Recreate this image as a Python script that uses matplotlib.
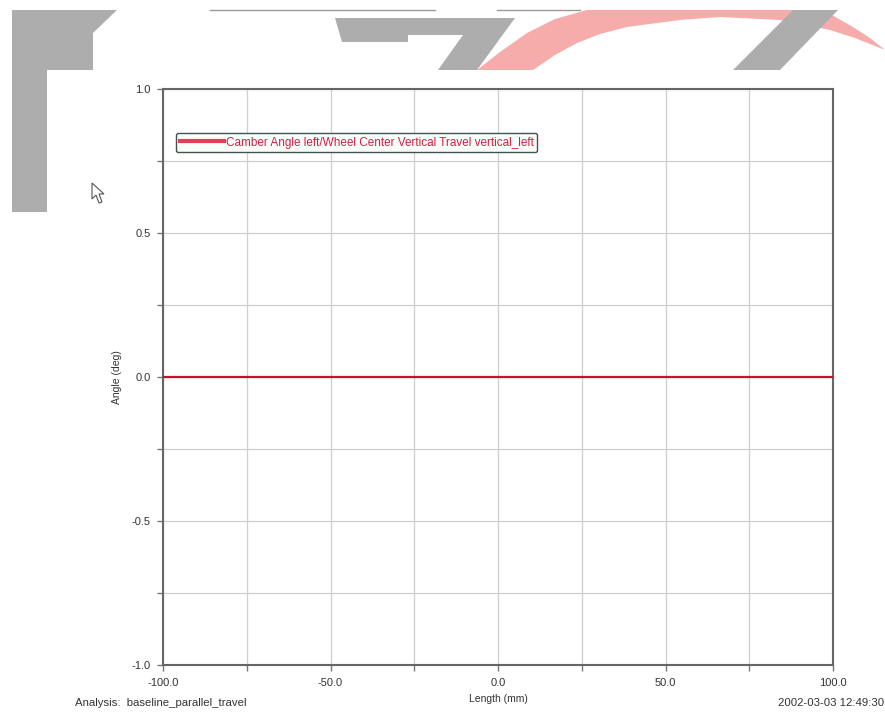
import numpy as np
import matplotlib
matplotlib.use("Agg")
import matplotlib.pyplot as plt
from matplotlib.patches import Polygon
from matplotlib.ticker import MultipleLocator, FormatStrFormatter

plt.rcParams['font.family'] = ['Liberation Sans', 'DejaVu Sans']

# data
travel = [-100.0, -50.0, 0.0, 50.0, 100.0]       # Length (mm)
camber = [0.0, 0.0, 0.0, 0.0, 0.0]               # Angle (deg)
series_name = 'Camber Angle left/Wheel Center Vertical Travel vertical_left'
analysis_name = 'Analysis:  baseline_parallel_travel'
timestamp = '2002-03-03 12:49:30'

W, H = 885, 713
fig = plt.figure(figsize=(W / 100, H / 100), dpi=100)

# --- watermark banner drawn in pixel coordinates ---
bg = fig.add_axes([0, 0, 1, 1], zorder=0)
bg.set_xlim(0, W)
bg.set_ylim(H, 0)
bg.axis('off')
grey = '#adadad'
pink = '#f7acac'
crescent = [(477, 70), (500, 52), (527, 33), (555, 19), (587, 10), (823, 10),
            (853, 27), (870, 38), (885, 50), (855, 38), (830, 30), (780, 20),
            (720, 17), (680, 20), (627, 27), (600, 34), (577, 43), (555, 55),
            (533, 70)]
bg.add_patch(Polygon(crescent, closed=True, fc=pink, ec='none'))
shapes = [
    [(12, 10), (117, 10), (93, 33), (93, 70), (47, 70), (47, 212), (12, 212)],
    [(335, 18), (515, 18), (477, 70), (438, 70), (463, 35), (408, 35), (408, 42), (342, 42)],
    [(793, 10), (838, 10), (780, 70), (733, 70)],
]
for s in shapes:
    bg.add_patch(Polygon(s, closed=True, fc=grey, ec='none'))
bg.plot([210, 435], [10, 10], color='#9a9a9a', lw=1)
bg.plot([497, 580], [10, 10], color='#9a9a9a', lw=1)
# mouse cursor
cursor = [(92, 183), (92, 199), (96, 195), (99, 203), (102, 202), (99, 194), (104, 194)]
bg.add_patch(Polygon(cursor, closed=True, fc='white', ec='#555555', lw=0.8))

# --- main chart ---
ax = fig.add_axes([163 / W, 1 - 665 / H, (833 - 163) / W, (665 - 89) / H], zorder=1)
ax.plot(travel, camber, color='#c8102e', lw=1.6, label=series_name, zorder=3)

ax.set_xlim(-100, 100)
ax.set_ylim(-1.0, 1.0)
ax.xaxis.set_major_locator(MultipleLocator(50))
ax.xaxis.set_minor_locator(MultipleLocator(25))
ax.yaxis.set_major_locator(MultipleLocator(0.5))
ax.yaxis.set_minor_locator(MultipleLocator(0.25))
ax.xaxis.set_major_formatter(FormatStrFormatter('%.1f'))
ax.yaxis.set_major_formatter(FormatStrFormatter('%.1f'))
ax.grid(True, which='both', color='#cfcfcf', lw=0.9)
ax.set_axisbelow(True)
ax.tick_params(which='both', direction='out', length=4, width=1,
               color='#777777', labelsize=8, labelcolor='#333333', pad=5)
for sp in ax.spines.values():
    sp.set_color('#666666')
    sp.set_linewidth(1.5)

ax.set_xlabel('Length (mm)', fontsize=7.5, color='#333333', labelpad=5)
ax.set_ylabel('Angle (deg)', fontsize=7.5, color='#333333')
ax.yaxis.set_label_coords(-0.061, 0.5)

leg = ax.legend(loc='upper left', bbox_to_anchor=(13 / 670, 1 - 44 / 576),
                borderaxespad=0, fontsize=8.5, handlelength=3.8,
                handletextpad=0.1, fancybox=True, framealpha=1,
                facecolor='#fbfffb', edgecolor='#3d5450', borderpad=0.3)
leg.get_frame().set_linewidth(1.0)
for t in leg.get_texts():
    t.set_color('#d02040')
for ln in leg.get_lines():
    ln.set_linewidth(3)
    ln.set_color('#e04058')

fig.text(75 / W, 1 - 703 / H, analysis_name, fontsize=8.2, color='#333333',
         ha='left', va='center')
fig.text(0.999, 1 - 703 / H, timestamp, fontsize=8.2, color='#333333',
         ha='right', va='center')

fig.savefig('out.png', dpi=100)
